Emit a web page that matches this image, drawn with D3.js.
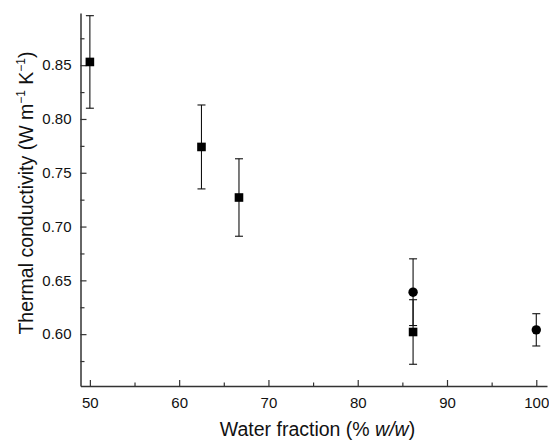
<!DOCTYPE html>
<html>
<head>
<meta charset="utf-8">
<script src="https://cdn.jsdelivr.net/npm/d3@7"></script>
<style>
  body { margin: 0; background: #fff; }
  svg { display: block; font-family: "Liberation Sans", Arial, sans-serif; }
</style>
</head>
<body>
<svg id="chart"></svg>
<script>
// data
const squareX = [50, 62.5, 66.7, 86.2];
const squareY = [0.853, 0.774, 0.727, 0.602];
const squareErr = [0.043, 0.039, 0.036, 0.030];

const circleX = [86.2, 100];
const circleY = [0.639, 0.604];
const circleErr = [0.031, 0.015];

const xTicks = [50, 60, 70, 80, 90, 100];
const xMinor = [55, 65, 75, 85, 95];
const yTicks = [0.60, 0.65, 0.70, 0.75, 0.80, 0.85];
const yMinor = [0.575, 0.625, 0.675, 0.725, 0.775, 0.825, 0.875];

const width = 549;
const height = 441;

const svg = d3.select("svg#chart")
    .attr("width", width)
    .attr("height", height);

const x = d3.scaleLinear().domain([48.95, 101.2]).range([80.5, 547]);
const y = d3.scaleLinear().domain([0.5518, 0.8985]).range([386, 13]);

const axisColor = "#333";

// minor ticks
svg.append("g")
    .attr("transform", "translate(0,386)")
    .call(d3.axisBottom(x).tickValues(xMinor).tickSizeInner(-3.5).tickSizeOuter(0).tickFormat(""))
    .call(g => g.select(".domain").remove())
    .call(g => g.selectAll("line").attr("stroke", axisColor).attr("stroke-width", 1.2));

svg.append("g")
    .attr("transform", "translate(80.5,0)")
    .call(d3.axisLeft(y).tickValues(yMinor).tickSizeInner(-4).tickSizeOuter(0).tickFormat(""))
    .call(g => g.select(".domain").remove())
    .call(g => g.selectAll("line").attr("stroke", axisColor).attr("stroke-width", 1.2));

// major axes
const xAxis = svg.append("g")
    .attr("transform", "translate(0,386)")
    .call(d3.axisBottom(x).tickValues(xTicks).tickSizeInner(-6).tickSizeOuter(0).tickPadding(11));

const yAxis = svg.append("g")
    .attr("transform", "translate(80.5,0)")
    .call(d3.axisLeft(y).tickValues(yTicks).tickSizeInner(-6).tickSizeOuter(0).tickPadding(9)
        .tickFormat(d3.format(".2f")));

[xAxis, yAxis].forEach(g => {
    g.attr("font-family", null).attr("font-size", null);
    g.select(".domain").attr("stroke", axisColor).attr("stroke-width", 1.5);
    g.selectAll(".tick line").attr("stroke", axisColor).attr("stroke-width", 1.2);
    g.selectAll(".tick text").attr("fill", "#111").style("font-size", "15px");
});

// error bars
function errorBars(xs, ys, errs) {
    const g = svg.append("g").attr("stroke", "#111").attr("stroke-width", 1.1);
    xs.forEach((xv, i) => {
        const cx = x(xv);
        const top = y(ys[i] + errs[i]);
        const bot = y(ys[i] - errs[i]);
        g.append("line").attr("x1", cx).attr("x2", cx).attr("y1", top).attr("y2", bot);
        g.append("line").attr("x1", cx - 4).attr("x2", cx + 4).attr("y1", top).attr("y2", top);
        g.append("line").attr("x1", cx - 4).attr("x2", cx + 4).attr("y1", bot).attr("y2", bot);
    });
}

errorBars(squareX, squareY, squareErr);
errorBars(circleX, circleY, circleErr);

// markers
svg.append("g")
    .selectAll("rect")
    .data(squareX)
    .join("rect")
    .attr("x", d => x(d) - 4.3)
    .attr("y", (d, i) => y(squareY[i]) - 4.3)
    .attr("width", 8.6)
    .attr("height", 8.6)
    .attr("fill", "#000");

svg.append("g")
    .selectAll("circle")
    .data(circleX)
    .join("circle")
    .attr("cx", d => x(d))
    .attr("cy", (d, i) => y(circleY[i]))
    .attr("r", 4.7)
    .attr("fill", "#000");

// axis titles
const xTitle = svg.append("text")
    .attr("x", 317.5)
    .attr("y", 436)
    .attr("text-anchor", "middle")
    .attr("fill", "#111")
    .style("font-size", "19.5px");
xTitle.append("tspan").text("Water fraction (% ");
xTitle.append("tspan").attr("font-style", "italic").text("w/w");
xTitle.append("tspan").text(")");

const yTitle = svg.append("text")
    .attr("transform", "translate(33,193) rotate(-90)")
    .attr("text-anchor", "middle")
    .attr("fill", "#111")
    .style("font-size", "19.5px");
yTitle.append("tspan").text("Thermal conductivity (W m");
yTitle.append("tspan").attr("dy", -8).style("font-size", "12px").text("\u22121");
yTitle.append("tspan").attr("dy", 8).text(" K");
yTitle.append("tspan").attr("dy", -8).style("font-size", "12px").text("\u22121");
yTitle.append("tspan").attr("dy", 8).text(")");
</script>
</body>
</html>
